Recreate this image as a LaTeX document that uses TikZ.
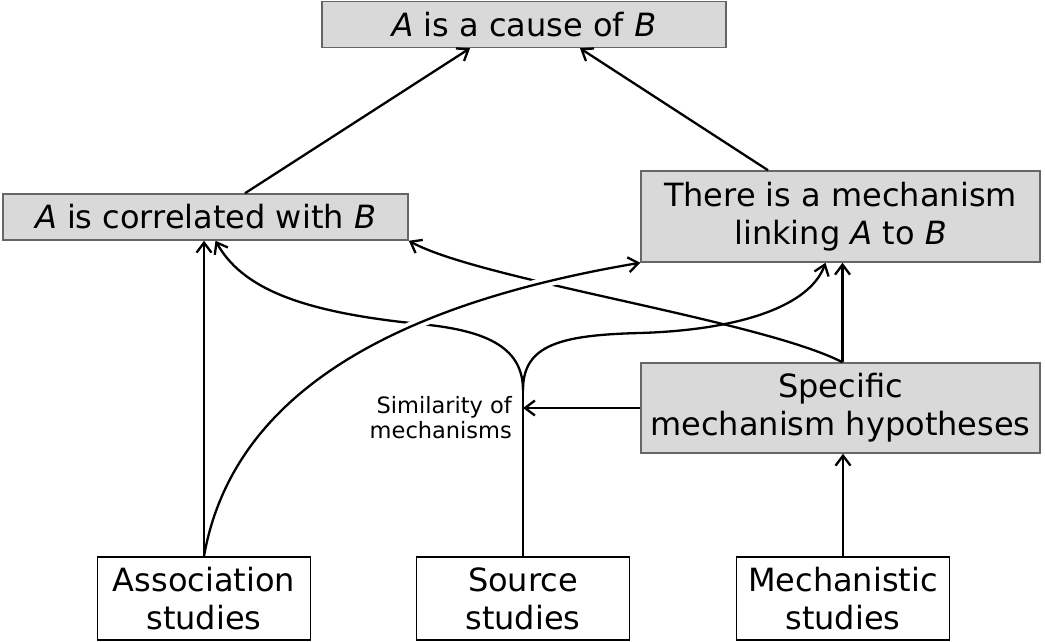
\documentclass[tikz,border=0pt]{standalone}
\usepackage{fontspec}
\setmainfont{DejaVu Sans}
\usetikzlibrary{arrows.meta,calc}

\begin{document}
\begin{tikzpicture}[x=1pt,y=-1pt,
  claim/.style={draw=black!60, fill=black!15, line width=1.5pt,
    font=\fontsize{32}{38}\selectfont, align=center, inner sep=0pt},
  study/.style={draw=black, fill=white, line width=1.5pt,
    font=\fontsize{32}{38}\selectfont, align=center, inner sep=0pt,
    minimum width=213pt, minimum height=83pt},
  link/.style={line width=2.3pt, line join=round,
    -{Straight Barb[length=10pt,width=15pt]}},
  plain/.style={line width=2.3pt},
  halo/.style={draw=white, line width=10pt},
  ]
\useasboundingbox (0,0) rectangle (1045,642);

% claims
\node[claim, minimum width=404pt, minimum height=46pt] (cause) at (524,24.5)
  {\textit{A} is a cause of \textit{B}};
\node[claim, minimum width=405pt, minimum height=46pt] (corr) at (205.5,217)
  {\textit{A} is correlated with \textit{B}};
\node[claim, minimum width=399pt, minimum height=91pt] (mech) at (840.5,216.5)
  {There is a mechanism\\linking \textit{A} to \textit{B}};
\node[claim, minimum width=399pt, minimum height=90pt] (hyp) at (840.5,408)
  {Specific\\mechanism hypotheses};

% kinds of study
\node[study] (assoc) at (204,598.5) {Association\\studies};
\node[study] (source) at (523,598.5) {Source\\studies};
\node[study] (mstud) at (843,598.5) {Mechanistic\\studies};

% branching point of the source-study line
\coordinate (split) at (523,390);

% support for the causal claim
\draw[link] ([xshift=39.5pt]corr.north) -- ([xshift=-54pt]cause.south);
\draw[link] ([xshift=-72.5pt]mech.north) -- ([xshift=56pt]cause.south);

% association studies support correlation
\draw[link] (assoc.north) -- (assoc.north |- corr.south);

% mechanistic studies give specific hypotheses
\draw[link] (mstud.north) -- (mstud.north |- hyp.south);

% source studies, by similarity of mechanisms
\draw[plain] (source.north) -- (split);
\draw[link] (split) .. controls (523,345) and (482,330) .. (420,324)
  .. controls (300,312) and (242,288) .. ([xshift=10pt]corr.south);
\draw[link] (split) .. controls (523,345) and (560,335) .. (640,333)
  .. controls (740,330) and (810,306) .. ([xshift=-15pt]mech.south);
\draw[link] (hyp.west) -- (split |- hyp.west);
\node[font=\fontsize{22.5}{25}\selectfont, align=right, anchor=east, inner sep=0pt]
  (simlabel) at ($(split |- hyp.west)+(-11,10)$) {Similarity of\\mechanisms};

% specific hypotheses
\draw[link] ([xshift=2pt]hyp.north) -- ([xshift=2pt]mech.south);
\draw[link] ([xshift=2pt]hyp.north) .. controls (760,320) and (480,280) .. (corr.south east);

% association studies towards the mechanism claim, drawn over the others
\begin{scope}
  \clip (330,255) rectangle (590,345);
  \draw[halo] (assoc.north) .. controls (235,380) and (420,300) .. (mech.south west);
\end{scope}
\draw[link] (assoc.north) .. controls (235,380) and (420,300) .. (mech.south west);
\end{tikzpicture}
\end{document}
